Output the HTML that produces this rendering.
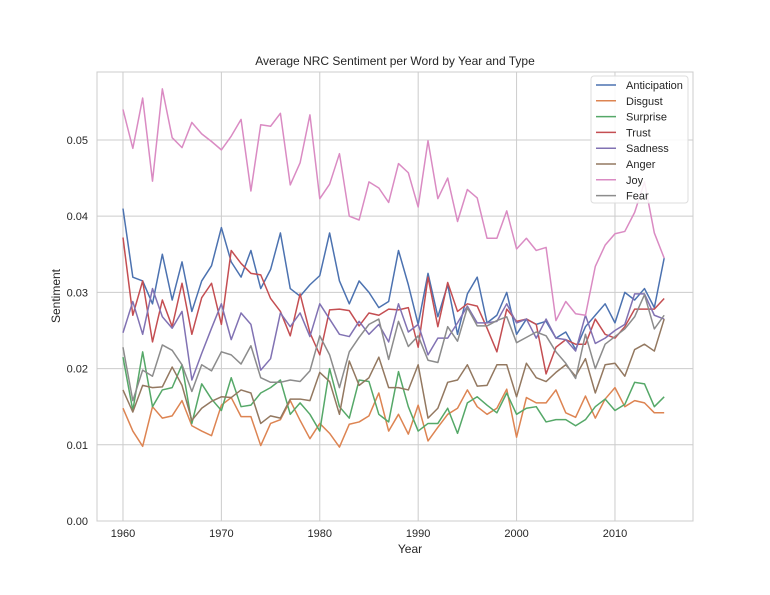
<!DOCTYPE html>
<html><head><meta charset="utf-8"><style>
html,body{margin:0;padding:0;background:#fff;}
svg{font-family:"Liberation Sans",sans-serif;display:block;}
</style></head><body>
<svg id="chart" width="770" height="595">
<rect x="0" y="0" width="770" height="595" fill="#fff"/>
<text x="395" y="65" text-anchor="middle" font-size="12" fill="#262626">Average NRC Sentiment per Word by Year and Type</text>
<g id="grid"></g>
<rect x="97" y="72" width="596" height="449" fill="none" stroke="#ccc" stroke-width="1"/>
<g id="series"></g>
<g id="ticks"></g>
<text x="410" y="553" text-anchor="middle" font-size="12" fill="#262626">Year</text>
<text x="60" y="296" text-anchor="middle" font-size="12" fill="#262626" transform="rotate(-90 60 296)">Sentiment</text>
<g id="legend"></g>
</svg>
<script>
const years = Array.from({length:56},(_,i)=>1960+i);
const seriesNames = ["Anticipation","Disgust","Surprise","Trust","Sadness","Anger","Joy","Fear"];
const seriesColors = ["#4c72b0","#dd8452","#55a868","#c44e52","#8172b3","#937860","#da8bc3","#8c8c8c"];
const anticipation = [.041,.032,.0315,.0285,.035,.029,.034,.0275,.0315,.0335,.0385,.034,.032,.0355,.0305,.033,.0378,.0305,.0295,.031,.0322,.0378,.0315,.0285,.0315,.030,.028,.0288,.0355,.031,.0258,.0325,.0268,.031,.0245,.0298,.032,.026,.027,.030,.0245,.0265,.0258,.0262,.024,.0248,.0225,.0255,.027,.0285,.026,.030,.029,.0305,.028,.0345];
const disgust = [.0148,.0118,.0098,.015,.0135,.0138,.0158,.0125,.0118,.0112,.0152,.0162,.0137,.0137,.0099,.0128,.0133,.0158,.0132,.0108,.0128,.0115,.0097,.0127,.013,.0138,.0168,.0118,.014,.0114,.0152,.0105,.0123,.014,.0148,.0172,.015,.014,.0148,.0173,.011,.0162,.0155,.0155,.0172,.0142,.0136,.0164,.0135,.016,.0175,.015,.0158,.0155,.0142,.0142];
const surprise = [.0215,.0145,.0222,.015,.0172,.0175,.0205,.0128,.018,.016,.0145,.0188,.015,.0152,.0168,.0175,.0185,.014,.0155,.014,.0118,.020,.015,.0135,.0185,.0183,.014,.013,.0196,.015,.0118,.0128,.0128,.0148,.0115,.0155,.0163,.0152,.0142,.0168,.014,.0148,.015,.013,.0133,.0133,.0125,.0133,.015,.016,.0145,.0153,.0182,.018,.015,.0163];
const trust = [.0372,.027,.0315,.0235,.029,.0255,.0312,.0245,.0293,.0312,.0258,.0355,.0338,.0325,.0323,.0292,.0275,.0243,.0298,.0247,.0218,.0277,.0278,.0276,.0256,.0273,.027,.0278,.0277,.028,.0228,.032,.0255,.0313,.0275,.0285,.0282,.0253,.0222,.0278,.0262,.0265,.0258,.0193,.0228,.0238,.0232,.0232,.0265,.0245,.024,.0255,.0278,.0278,.0278,.0292];
const sadness = [.0247,.0288,.0245,.0305,.0268,.0253,.0275,.0185,.022,.0253,.0285,.0238,.0273,.0258,.0198,.0213,.0273,.0255,.0273,.0242,.0285,.0265,.0245,.0242,.0262,.0245,.0258,.0235,.0285,.0248,.0258,.0218,.024,.024,.026,.0282,.026,.026,.0262,.0285,.026,.0265,.024,.0265,.024,.0238,.0223,.027,.0233,.024,.025,.0258,.0298,.0298,.027,.0265];
const anger = [.0172,.0143,.0178,.0175,.0176,.0202,.0178,.0132,.0148,.0157,.0163,.0162,.0172,.0168,.0128,.0138,.0135,.016,.016,.0158,.0195,.0183,.014,.021,.0178,.0188,.0215,.0175,.0175,.0172,.0205,.0135,.0148,.0182,.0185,.0205,.0177,.0178,.0205,.0205,.0163,.0207,.0188,.0183,.0195,.0205,.019,.0213,.0168,.0205,.0207,.019,.0225,.0232,.0223,.0265];
const joy = [.054,.0489,.0555,.0446,.0567,.0503,.049,.0523,.0508,.0498,.0487,.0505,.0527,.0433,.052,.0518,.0535,.0441,.047,.0533,.0423,.0442,.0482,.040,.0395,.0445,.0437,.0418,.0469,.0457,.0412,.0499,.0423,.045,.0393,.0435,.0424,.0371,.0371,.0407,.0357,.0371,.0355,.0359,.0263,.0288,.0272,.027,.0334,.0362,.0377,.038,.0405,.0445,.0378,.0345];
const fear = [.0228,.0158,.0198,.019,.0231,.0224,.0205,.017,.0205,.0197,.0222,.0218,.0206,.023,.0188,.0182,.0182,.0185,.0183,.0197,.0243,.0218,.0175,.0222,.0241,.0258,.0265,.0212,.0262,.0229,.0243,.0211,.0208,.0255,.0236,.028,.0256,.0256,.0263,.0268,.0234,.0241,.0248,.0243,.0222,.0207,.0187,.0245,.02,.0232,.0242,.0252,.0268,.0297,.0252,.027];
const xTicks = [1960,1970,1980,1990,2000,2010];
const yTicks = [0,0.01,0.02,0.03,0.04,0.05];
const yTickLabels = ["0.00","0.01","0.02","0.03","0.04","0.05"];

const NS="http://www.w3.org/2000/svg";
const L=97,R=693,T=72,B=521;
const xMin=1957.36,xMax=2017.93,yMin=0,yMax=0.05892;
const xs=v=>L+(v-xMin)/(xMax-xMin)*(R-L);
const ys=v=>B-(v-yMin)/(yMax-yMin)*(B-T);
function mk(tag,attrs,parent){const e=document.createElementNS(NS,tag);for(const k in attrs)e.setAttribute(k,attrs[k]);parent.appendChild(e);return e;}
const grid=document.getElementById('grid'),ticks=document.getElementById('ticks'),ser=document.getElementById('series'),leg=document.getElementById('legend');
xTicks.forEach(t=>{
  const l=mk('line',{x1:xs(t),x2:xs(t),y1:T,y2:B,stroke:'#ccc','stroke-width':1},grid);
  
  
  const tx=mk('text',{x:xs(t),y:B+16,'text-anchor':'middle','font-size':11,fill:'#262626'},ticks);
  tx.textContent=t;
  
  
});
yTicks.forEach((t,i)=>{
  const l=mk('line',{x1:L,x2:R,y1:ys(t),y2:ys(t),stroke:'#ccc','stroke-width':1},grid);
  
  
  const tx=mk('text',{x:L-9,y:ys(t)+4,'text-anchor':'end','font-size':11,fill:'#262626'},ticks);
  tx.textContent=yTickLabels[i];
  
  
});
const allSeries=[anticipation,disgust,surprise,trust,sadness,anger,joy,fear];
allSeries.forEach((vals,si)=>{
  const d=vals.map((v,i)=>(i?'L':'M')+xs(years[i]).toFixed(2)+','+ys(v).toFixed(2)).join(' ');
  const p=mk('path',{d:d,fill:'none',stroke:seriesColors[si],'stroke-width':1.5,'stroke-linejoin':'round'},ser);
  
  
});
const lb=mk('rect',{x:591,y:76,width:97,height:127,fill:'#fff','fill-opacity':0.85,stroke:'#ddd',rx:3},leg);


seriesNames.forEach((n,i)=>{
  const y=85+i*15.8;
  const ln=mk('line',{x1:596,x2:616,y1:y,y2:y,stroke:seriesColors[i],'stroke-width':1.5},leg);
  
  
  const tx=mk('text',{x:626,y:y+4,'font-size':11,fill:'#262626'},leg);
  tx.textContent=n;
  
  
});
</script>
</body></html>
